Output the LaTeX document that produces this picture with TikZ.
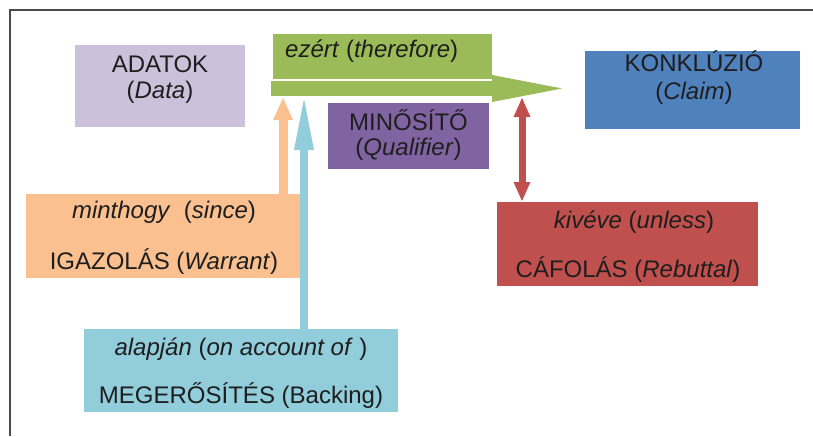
\documentclass[tikz,border=0pt]{standalone}
\usepackage{fontspec}
\setmainfont{Liberation Sans}
\usetikzlibrary{arrows.meta}

\definecolor{datac}{HTML}{CCC1DA}
\definecolor{greenc}{HTML}{9BBB59}
\definecolor{qualc}{HTML}{8064A2}
\definecolor{claimc}{HTML}{4F81BD}
\definecolor{warrc}{HTML}{FAC090}
\definecolor{backc}{HTML}{92CDDC}
\definecolor{rebc}{HTML}{C0504D}
\definecolor{txtc}{HTML}{1E1E1E}
\definecolor{framec}{HTML}{4A4A4A}

\begin{document}
\begin{tikzpicture}[x=1pt, y=-1pt,
  box/.style={rectangle, draw=none, inner sep=0pt},
  lbl/.style={anchor=base, inner sep=0pt, text=txtc, font=\fontsize{24}{28}\selectfont},
  link/.style={line cap=butt}
]
\useasboundingbox (0,0) rectangle (813,436);
\fill[white] (0,0) rectangle (813,436);

% outer frame (top and left edges)
\draw[framec, line width=1.4pt] (10,436) -- (10,10) -- (813,10);

% boxes
\node[box, fill=datac,  minimum width=170pt, minimum height=82pt] (data)      at (160,86)    {};
\node[box, fill=greenc, minimum width=219pt, minimum height=45pt] (therefore) at (382.5,56.5) {};
\node[box, fill=qualc,  minimum width=161pt, minimum height=66pt] (qualifier) at (408.5,136) {};
\node[box, fill=claimc, minimum width=215pt, minimum height=78pt] (claim)     at (692.5,90)  {};
\node[box, fill=warrc,  minimum width=276pt, minimum height=84pt] (warrant)   at (164,236)   {};
\node[box, fill=backc,  minimum width=314pt, minimum height=83pt] (backing)   at (241,370.5) {};
\node[box, fill=rebc,   minimum width=261pt, minimum height=84pt] (rebuttal)  at (627.5,244) {};

% main inference arrow: shaft under the "therefore" box, head pointing at the claim
\coordinate (shaftL) at (271,81);
\coordinate (shaftR) at (492,96);
\coordinate (headtip) at (562,88.5);
\fill[greenc] (shaftL) rectangle (shaftR);
\fill[greenc] (492,75) -- (headtip) -- (492,102) -- cycle;

% warrant and backing arrows into the shaft
\coordinate (wtip) at (283,98);
\coordinate (btip) at (304,99);
\draw[link, warrc, line width=9pt,
  -{Triangle[width=20pt,length=22pt,line width=0pt]}] (wtip |- warrant.north) -- (wtip);
\draw[link, backc, line width=8pt,
  -{Triangle[width=20pt,length=51pt,line width=0pt]}] (btip |- backing.north) -- (btip);

% rebuttal double arrow
\coordinate (rtop) at (522,98);
\coordinate (rbot) at (522,201);
\draw[link, rebc, line width=7pt,
  {Triangle[width=17pt,length=19pt,line width=0pt]}-{Triangle[width=17pt,length=19pt,line width=0pt]}] (rtop) -- (rbot);

% labels
\node[lbl] (dataA) at (160,73) {ADATOK};
\node[lbl] (dataB) at (160,98) {(\textit{Data})};

\node[lbl, anchor=base west] (thereA) at (285,58) {\textit{ezért} (\textit{therefore})};

\node[lbl] (qualA) at (408.5,130) {MINŐSÍTŐ};
\node[lbl] (qualB) at (408.5,155) {(\textit{Qualifier})};

\node[lbl] (claimA) at (694,71) {KONKLÚZIÓ};
\node[lbl] (claimB) at (694,99) {(\textit{Claim})};

\node[lbl] (warrA) at (164,218) {\textit{minthogy}\ \ (\textit{since})};
\node[lbl] (warrB) at (164,269) {IGAZOLÁS (\textit{Warrant})};

\node[lbl] (backA) at (241,355) {\textit{alapján} (\textit{on account of} )};
\node[lbl] (backB) at (241,403) {MEGERŐSÍTÉS (Backing)};

\node[lbl] (rebA) at (634,228) {\textit{kivéve} (\textit{unless})};
\node[lbl] (rebB) at (628,277) {CÁFOLÁS (\textit{Rebuttal})};
\end{tikzpicture}
\end{document}
